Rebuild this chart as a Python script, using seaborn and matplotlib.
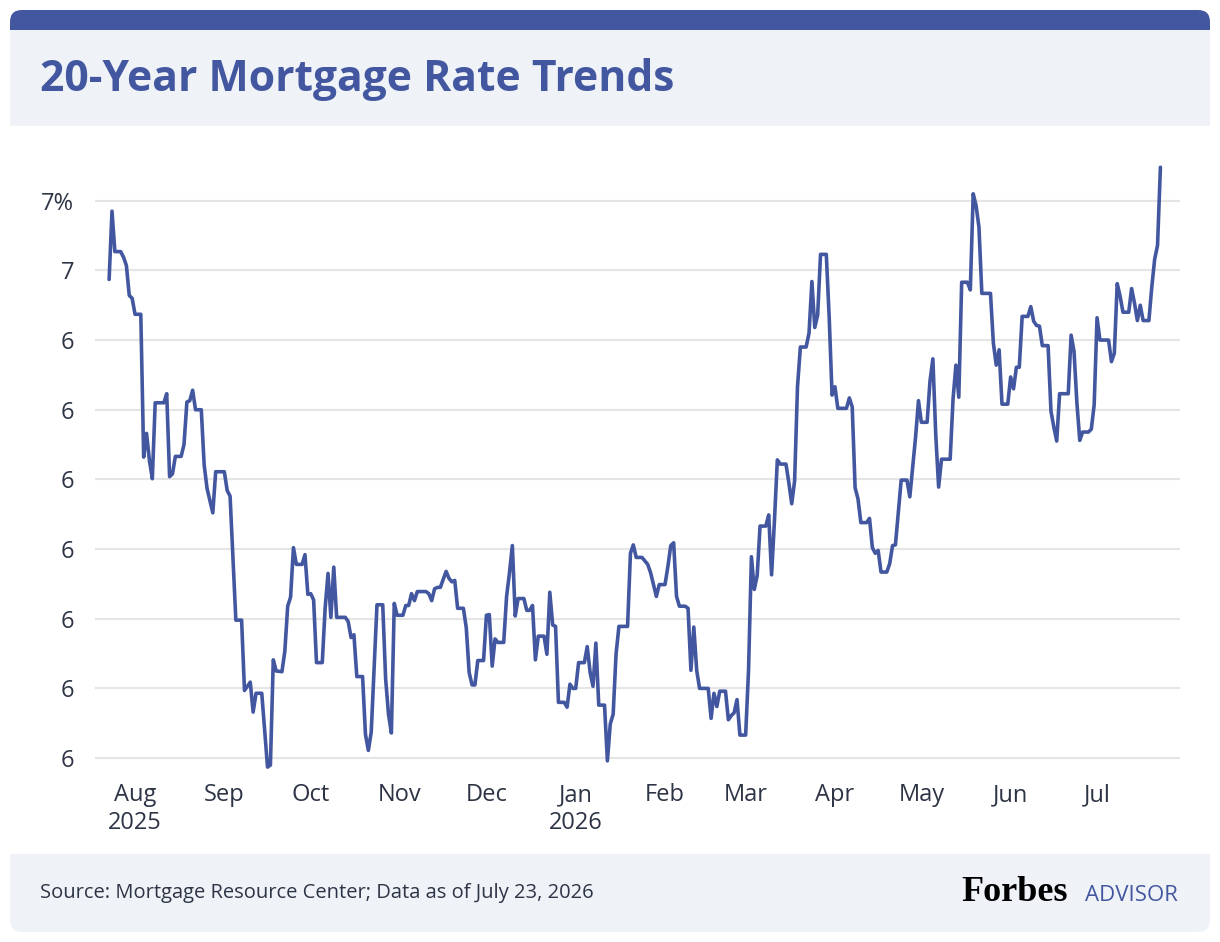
import numpy as np
import pandas as pd
import matplotlib.pyplot as plt
import seaborn as sns
from matplotlib.patches import FancyBboxPatch, Rectangle

# day offsets from 2025-07-23 and the rate read at each vertex of the line
days = [0, 1, 2, 4, 5, 6, 7, 8, 9, 11, 12, 13, 14, 15, 16, 19, 20, 21, 22, 23,
        25, 26, 27, 28, 29, 30, 32, 33, 34, 36, 37, 40, 41, 42, 44, 46, 47, 49, 50, 51,
        53, 55, 56, 57, 58,
        60, 61, 62, 63, 64, 65, 67, 68, 69, 70, 71, 72, 74, 75, 76, 77, 78, 79, 82, 83,
        84, 85, 86, 88, 89, 90, 91, 92, 93, 95, 96, 97, 98, 99, 100, 102, 103, 104, 105, 106,
        107, 110, 111, 112, 113, 114, 115, 117,
        118, 119, 120, 121, 123, 124, 125, 126, 127, 128, 130, 131, 132, 133, 134, 135, 137, 138, 139, 140,
        141, 142, 144, 145, 146, 147, 148, 149, 151, 152, 153, 154, 155, 156, 158, 159, 160, 161, 162, 163,
        165, 166, 167, 168, 169, 170, 172, 173, 174, 175, 176, 177,
        180, 181, 182, 183, 185, 187, 188, 189, 190, 191, 193, 194, 195, 196, 197, 198, 200, 201, 202, 203,
        204, 205, 208, 209, 210, 211, 212, 214, 215, 216, 217, 218, 219, 221, 222, 223, 224, 225, 226, 228,
        229, 230, 231, 232, 233, 235,
        236, 237, 238, 239, 240, 242, 243, 244, 245, 246, 247, 249, 250, 251, 252, 253, 256, 257, 258, 259,
        260, 261, 263, 264, 265, 266, 267, 268, 270, 271, 272, 273, 274, 275, 277, 278, 279, 280, 281, 282,
        284, 285, 286, 287, 288, 289, 292, 293, 294, 295, 296, 298, 299, 300, 301, 302, 303,
        306, 307, 308, 309, 310, 312, 313, 314, 315, 316, 317, 319, 320, 321, 322, 323, 324, 326, 327, 328,
        329, 330, 333, 334, 335, 336, 337, 338, 340, 341, 342, 343, 344, 347, 348, 349, 350, 351, 352, 354,
        355, 356, 357, 358, 359, 361, 362, 363, 364, 365]

rates = [6.487, 6.585, 6.527, 6.527, 6.519, 6.507, 6.464, 6.460, 6.437, 6.437,
         6.232, 6.266, 6.227, 6.201, 6.310, 6.310, 6.323, 6.204, 6.208, 6.233,
         6.233, 6.250, 6.311, 6.313, 6.328, 6.300, 6.300, 6.221, 6.187, 6.152,
         6.211, 6.211, 6.184, 6.176, 5.998, 5.998, 5.897, 5.909, 5.866, 5.893,
         5.893, 5.787, 5.790, 5.941, 5.925,
         5.924, 5.953, 6.018, 6.031, 6.102, 6.078, 6.078, 6.092, 6.035, 6.036,
         6.027, 5.937, 5.937, 6.015, 6.065, 6.002, 6.074, 6.002, 6.002, 5.996,
         5.973, 5.977, 5.917, 5.917, 5.834, 5.811, 5.837, 5.929, 6.020, 6.020,
         5.914, 5.863, 5.836, 6.022, 6.005, 6.005, 6.019, 6.019, 6.036, 6.026,
         6.039, 6.039, 6.036, 6.026, 6.043, 6.045, 6.045, 6.068,
         6.058, 6.053, 6.055, 6.015, 6.015, 5.987, 5.923, 5.905, 5.905, 5.940,
         5.940, 6.005, 6.006, 5.932, 5.971, 5.966, 5.966, 6.032, 6.066, 6.105,
         6.004, 6.029, 6.029, 6.012, 6.012, 6.019, 5.941, 5.975, 5.975, 5.949,
         6.038, 5.991, 5.989, 5.880, 5.880, 5.873, 5.906, 5.900, 5.900, 5.937,
         5.937, 5.960, 5.923, 5.903, 5.965, 5.876, 5.876, 5.796, 5.849, 5.863,
         5.949, 5.989,
         5.989, 6.094, 6.106, 6.088, 6.088, 6.078, 6.066, 6.049, 6.032, 6.049,
         6.049, 6.075, 6.105, 6.109, 6.032, 6.018, 6.018, 6.015, 5.926, 5.988,
         5.926, 5.900, 5.900, 5.857, 5.893, 5.874, 5.896, 5.896, 5.855, 5.861,
         5.865, 5.884, 5.833, 5.833, 5.926, 6.089, 6.042, 6.062, 6.133, 6.133,
         6.149, 6.063, 6.141, 6.228, 6.222, 6.222,
         6.195, 6.165, 6.198, 6.333, 6.390, 6.390, 6.410, 6.484, 6.418, 6.436,
         6.523, 6.523, 6.433, 6.321, 6.333, 6.302, 6.302, 6.317, 6.304, 6.188,
         6.172, 6.138, 6.138, 6.144, 6.102, 6.094, 6.098, 6.067, 6.067, 6.079,
         6.105, 6.106, 6.152, 6.199, 6.199, 6.175, 6.218, 6.261, 6.313, 6.282,
         6.282, 6.341, 6.373, 6.264, 6.189, 6.229, 6.229, 6.315, 6.364, 6.318,
         6.483, 6.483, 6.472, 6.610, 6.593, 6.562, 6.467,
         6.467, 6.396, 6.364, 6.386, 6.308, 6.308, 6.347, 6.330, 6.361, 6.361,
         6.434, 6.434, 6.448, 6.427, 6.421, 6.420, 6.392, 6.392, 6.298, 6.275,
         6.255, 6.323, 6.323, 6.407, 6.384, 6.310, 6.256, 6.268, 6.268, 6.272,
         6.307, 6.432, 6.400, 6.400, 6.369, 6.381, 6.481, 6.463, 6.440, 6.440,
         6.474, 6.453, 6.428, 6.450, 6.428, 6.428, 6.476, 6.516, 6.536, 6.648]

y_ticks = [5.8, 5.9, 6.0, 6.1, 6.2, 6.3, 6.4, 6.5, 6.6]
y_labels = ['6', '6', '6', '6', '6', '6', '6', '7', '7%']
month_starts = pd.date_range('2025-08-01', '2026-07-01', freq='MS')
month_labels = ['Aug\n2025', 'Sep', 'Oct', 'Nov', 'Dec', 'Jan\n2026',
                'Feb', 'Mar', 'Apr', 'May', 'Jun', 'Jul']

start = pd.Timestamp('2025-07-23')
df = pd.DataFrame({'date': start + pd.to_timedelta(days, unit='D'), 'rate': rates})

blue = '#4357A0'
light = '#EFF3F8'
ink = '#2D3445'

sns.set_theme(style='white')
plt.rcParams['font.family'] = ['Open Sans', 'DejaVu Sans']

fig = plt.figure(figsize=(12.2, 9.42), dpi=100)

# background panels, drawn in pixel units
bg = fig.add_axes([0, 0, 1, 1], zorder=0)
bg.set_xlim(0, 1220)
bg.set_ylim(942, 0)
bg.axis('off')
bg.add_patch(FancyBboxPatch((10, 10), 1200, 60, boxstyle='round,pad=0,rounding_size=12',
                            fc=blue, ec='none'))
bg.add_patch(Rectangle((10, 30), 1200, 96, fc=light, ec='none'))
bg.add_patch(FancyBboxPatch((10, 854), 1200, 78, boxstyle='round,pad=0,rounding_size=12',
                            fc=light, ec='none'))
bg.add_patch(Rectangle((10, 854), 1200, 20, fc=light, ec='none'))

bg.text(40, 91, '20-Year Mortgage Rate Trends', fontsize=30.7, fontweight='bold',
        color=blue, va='baseline', ha='left')
bg.text(40, 898, 'Source: Mortgage Resource Center; Data as of July 23, 2026',
        fontsize=14.5, color=ink, va='baseline', ha='left')
bg.text(1068, 901, 'Forbes', fontsize=26, fontweight='bold', color='black',
        family=['Liberation Serif'], va='baseline', ha='right')
bg.text(1178, 901, 'ADVISOR', fontsize=16, color=blue, va='baseline', ha='right')

# chart
ax = fig.add_axes([95 / 1220, 1 - 772 / 942, 1085 / 1220, 627 / 942], zorder=1)
ax.patch.set_alpha(0)
sns.lineplot(data=df, x='date', y='rate', ax=ax, color=blue, linewidth=2.6)

ax.set_xlim(start - pd.Timedelta(days=4.9), start + pd.Timedelta(days=371.8))
ax.set_ylim(5.78, 6.68)
ax.set_xticks(month_starts)
ax.set_xticklabels(month_labels)
ax.set_yticks(y_ticks)
ax.set_yticklabels(y_labels)
ax.set_xlabel('')
ax.set_ylabel('')
ax.tick_params(axis='x', length=0, pad=8, labelsize=17, labelcolor=ink)
ax.tick_params(axis='y', length=0, pad=15, labelsize=17, labelcolor=ink)
ax.yaxis.grid(True, color='#E5E5E5', linewidth=1.5)
ax.xaxis.grid(False)
for s in ax.spines.values():
    s.set_visible(False)

fig.savefig('out.png', dpi=100)
